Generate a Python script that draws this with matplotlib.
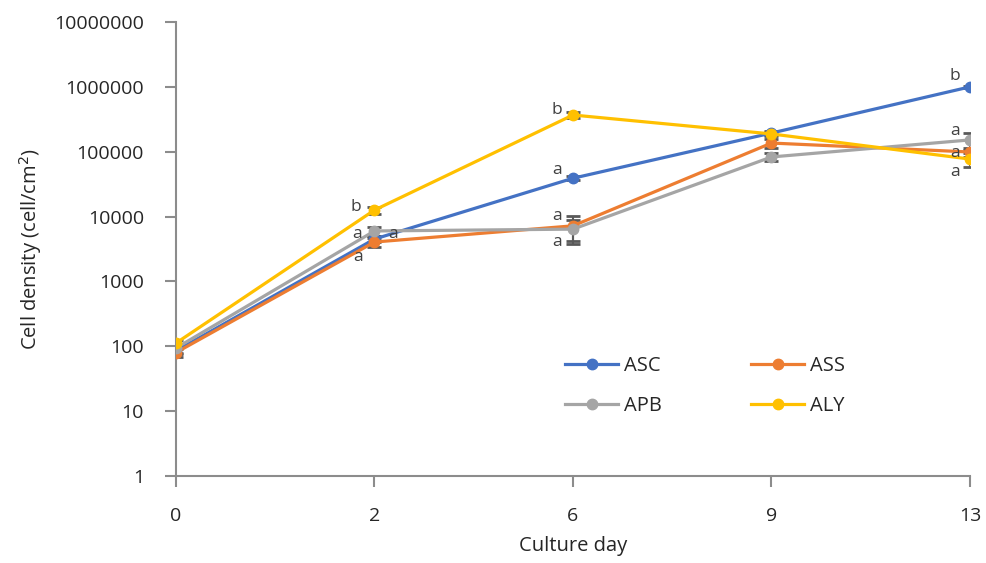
import matplotlib
matplotlib.use("Agg")
import matplotlib.pyplot as plt
import numpy as np

plt.rcParams['font.family'] = ['Open Sans', 'DejaVu Sans']

days = ["0", "2", "6", "9", "13"]
asc = [85, 4500, 39000, 194000, 1000000]
ass = [80, 4050, 7200, 136000, 99000]
apb = [94, 6000, 6400, 83000, 152000]
aly = [112, 12600, 368000, 188000, 77000]

asc_err = [10, 500, 3000, 15000, 40000]
ass_err = [12, 700, 3000, 20000, 15000]
apb_err = [15, 1000, 2600, 12000, 45000]
aly_err = [15, 1500, 40000, 15000, 18000]

series_names = ["ASC", "ASS", "APB", "ALY"]
colors = ["#4472C4", "#ED7D31", "#A5A5A5", "#FFC000"]

# significance letters: (day index, series index, letter, dx px, dy px)
letters = [
    (1, 3, "b", -19, 3), (1, 2, "a", -17, -3), (1, 2, "a", 19, -3), (1, 1, "a", -16, -15),
    (2, 3, "b", -16, 5), (2, 0, "a", -16, 8), (2, 1, "a", -16, 10), (2, 2, "a", -16, -13),
    (4, 0, "b", -15, 11), (4, 2, "a", -15, 9), (4, 1, "a", -15, -1), (4, 3, "a", -15, -13),
]

fig = plt.figure(figsize=(9.87, 5.63), dpi=100)
ax = fig.add_axes([176/987, 1-476/563, (970-176)/987, (476-22)/563])

x = np.arange(len(days))
data = [asc, ass, apb, aly]
errs = [asc_err, ass_err, apb_err, aly_err]
for vals, err in zip(data, errs):
    ax.errorbar(x, vals, yerr=err, fmt='none', ecolor='#595959', elinewidth=1.5,
                capsize=5, capthick=2, zorder=2)
handles = []
for vals, c, name in zip(data, colors, series_names):
    h, = ax.plot(x, vals, color=c, lw=2.3, marker='o', ms=7.5, label=name, zorder=3)
    handles.append(h)

for di, si, let, dx, dy in letters:
    ax.annotate(let, (x[di], data[si][di]), xytext=(dx, dy), textcoords='offset pixels',
                ha='center', va='center', fontsize=12.5, color='#404040')

ax.set_yscale('log')
ax.set_ylim(1, 1e7)
ax.set_xlim(0, len(days)-1)
ax.set_xticks(x)
ax.set_xticklabels(days)
yt = [10**i for i in range(8)]
ax.set_yticks(yt)
ax.set_yticklabels([str(v) for v in yt])
ax.yaxis.set_minor_locator(matplotlib.ticker.NullLocator())

for s in ['top', 'right']:
    ax.spines[s].set_visible(False)
for s in ['left', 'bottom']:
    ax.spines[s].set_color('#8C8C8C')
    ax.spines[s].set_linewidth(1.5)
ax.tick_params(axis='both', colors='#8C8C8C', width=1.5, length=8, labelsize=14,
               labelcolor='#262626')
ax.tick_params(axis='y', pad=15)
ax.tick_params(axis='x', pad=14)

ax.set_xlabel("Culture day", fontsize=14.5, color='#262626', labelpad=8)
ax.set_ylabel("Cell density (cell/cm$^2$)", fontsize=14.5, color='#262626', labelpad=7)

order = [0, 2, 1, 3]
leg = fig.legend([handles[i] for i in order], [series_names[i] for i in order],
                 ncol=2, loc='center left', bbox_to_anchor=(565/987, 1-386/563),
                 frameon=False, fontsize=14.5, handlelength=2.65, columnspacing=4.4,
                 labelspacing=0.95, handletextpad=0.3, borderpad=0, borderaxespad=0)
for t in leg.get_texts():
    t.set_color('#262626')

fig.savefig("out.png", dpi=100)
